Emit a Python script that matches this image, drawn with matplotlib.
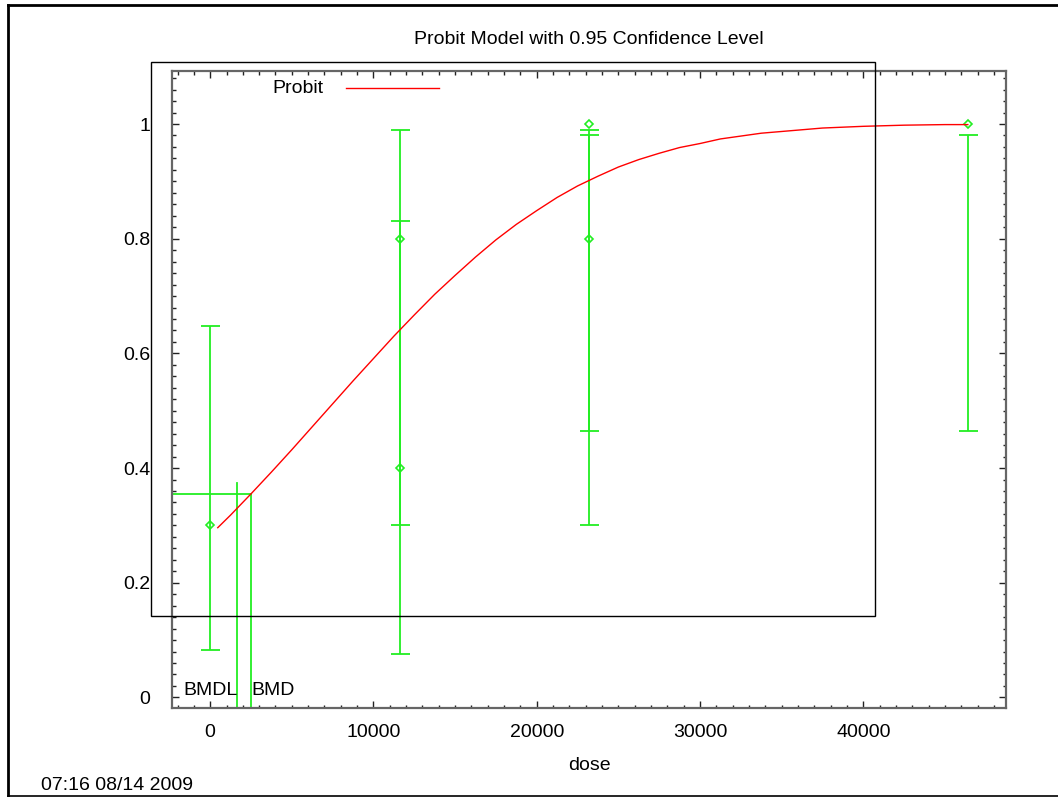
import matplotlib
matplotlib.use('Agg')
import matplotlib.pyplot as plt
import matplotlib.patches as patches
from matplotlib.ticker import MultipleLocator

# observed data (two groups share dose 11600 and 23200)
dose = [0, 11600, 11600, 23200, 23200, 46400]
observed = [0.3, 0.4, 0.8, 0.8, 1.0, 1.0]
ci_low = [0.083, 0.075, 0.30, 0.30, 0.465, 0.465]
ci_high = [0.647, 0.83, 0.99, 0.99, 0.98, 0.98]

# fitted probit curve
curve_dose = [464, 1250, 2500, 3750, 5000, 6250, 7500, 8750, 10000, 11250,
              12500, 13750, 15000, 16250, 17500, 18750, 20000, 21250, 22500, 23750,
              25000, 26250, 27500, 28750, 30000, 31250, 32500, 33750, 35000, 37500,
              40000, 42500, 45000, 46400]
curve_prob = [0.296, 0.318, 0.355, 0.393, 0.432, 0.472, 0.512, 0.552, 0.591, 0.630,
              0.667, 0.703, 0.736, 0.768, 0.798, 0.825, 0.849, 0.872, 0.892, 0.909,
              0.925, 0.938, 0.949, 0.959, 0.966, 0.974, 0.979, 0.984, 0.987, 0.993,
              0.996, 0.998, 0.999, 0.999]

bmd = 2530
bmdl = 1672
bmr_level = 0.355
bmdl_top = 0.374

green = '#22ee22'
red = '#ff0000'

plt.rcParams['font.family'] = ['Liberation Sans', 'DejaVu Sans']
plt.rcParams['font.size'] = 14

fig = plt.figure(figsize=(10.58, 7.97), dpi=100)
ax = fig.add_axes([172.3 / 1058, 1 - 708.3 / 797, (1005.7 - 172.3) / 1058, (708.3 - 70.7) / 797])

ax.set_xlim(-2320, 48720)
ax.set_ylim(-0.019, 1.093)

# key box as drawn by the original program
fig.patches.append(patches.Rectangle((151.3 / 1058, 1 - 616 / 797), (875 - 151.3) / 1058,
                                     (616 - 62) / 797, transform=fig.transFigure,
                                     fill=False, edgecolor='black', linewidth=1.0, zorder=1))

# outer frame (top, left, bottom)
fig.add_artist(plt.Line2D([8 / 1058, 1], [1 - 4.5 / 797, 1 - 4.5 / 797], transform=fig.transFigure, color='black', lw=2))
fig.add_artist(plt.Line2D([8 / 1058, 8 / 1058], [0, 1 - 4.5 / 797], transform=fig.transFigure, color='black', lw=2))
fig.add_artist(plt.Line2D([8 / 1058, 1], [0.6 / 797, 0.6 / 797], transform=fig.transFigure, color='black', lw=1.2))

# confidence intervals (upper limit can sit below the point, so no errorbar())
ax.vlines(dose, ci_low, ci_high, color=green, lw=1.3, zorder=3)
cap = 19 * 0.72
ax.plot(dose, ci_low, ls='none', marker='_', ms=cap, mew=1.3, color=green, zorder=3)
ax.plot(dose, ci_high, ls='none', marker='_', ms=cap, mew=1.3, color=green, zorder=3)
ax.plot(dose, observed, ls='none', marker='D', ms=4.5, mfc='none', mew=1.2, color=green, zorder=3)

ax.plot(curve_dose, curve_prob, color=red, lw=1.0, zorder=4)

# BMD / BMDL markers
ax.plot([-2320, bmd], [bmr_level, bmr_level], color=green, lw=1.3)
ax.plot([bmd, bmd], [-0.019, bmr_level], color=green, lw=1.3)
ax.plot([bmdl, bmdl], [-0.019, bmdl_top], color=green, lw=1.3)
ax.text(bmdl, 0.012, 'BMDL', ha='right', va='center')
ax.text(bmd, 0.012, 'BMD', ha='left', va='center')

ax.xaxis.set_major_locator(MultipleLocator(10000))
ax.xaxis.set_minor_locator(MultipleLocator(1000))
ax.yaxis.set_minor_locator(MultipleLocator(0.02))
ax.set_yticks([0, 0.2, 0.4, 0.6, 0.8, 1.0])
ax.set_yticklabels(['0', '0.2', '0.4', '0.6', '0.8', '1'])
ax.tick_params(which='both', direction='in', top=True, right=True, color='#222222')
ax.tick_params(which='major', length=7 * 0.72, width=1.0)
ax.tick_params(axis='y', which='major', pad=16)
ax.tick_params(axis='x', which='major', pad=11)
ax.tick_params(which='minor', length=3.5 * 0.72, width=1.0)
for s in ax.spines.values():
    s.set_color('#666666')
    s.set_linewidth(1.6)

ax.set_xlabel('dose', labelpad=12)

# legend entry
fig.text(324 / 1058, 1 - 88.5 / 797, 'Probit', ha='right', va='center')
fig.add_artist(plt.Line2D([346 / 1058, 439 / 1058], [1 - 88.3 / 797, 1 - 88.3 / 797],
                          transform=fig.transFigure, color=red, lw=1.0))

fig.text(589 / 1058, 1 - 39 / 797, 'Probit Model with 0.95 Confidence Level', ha='center', va='center')
fig.text(41 / 1058, 1 - 785 / 797, '07:16 08/14 2009', ha='left', va='center')

fig.savefig('out.png', dpi=100)
